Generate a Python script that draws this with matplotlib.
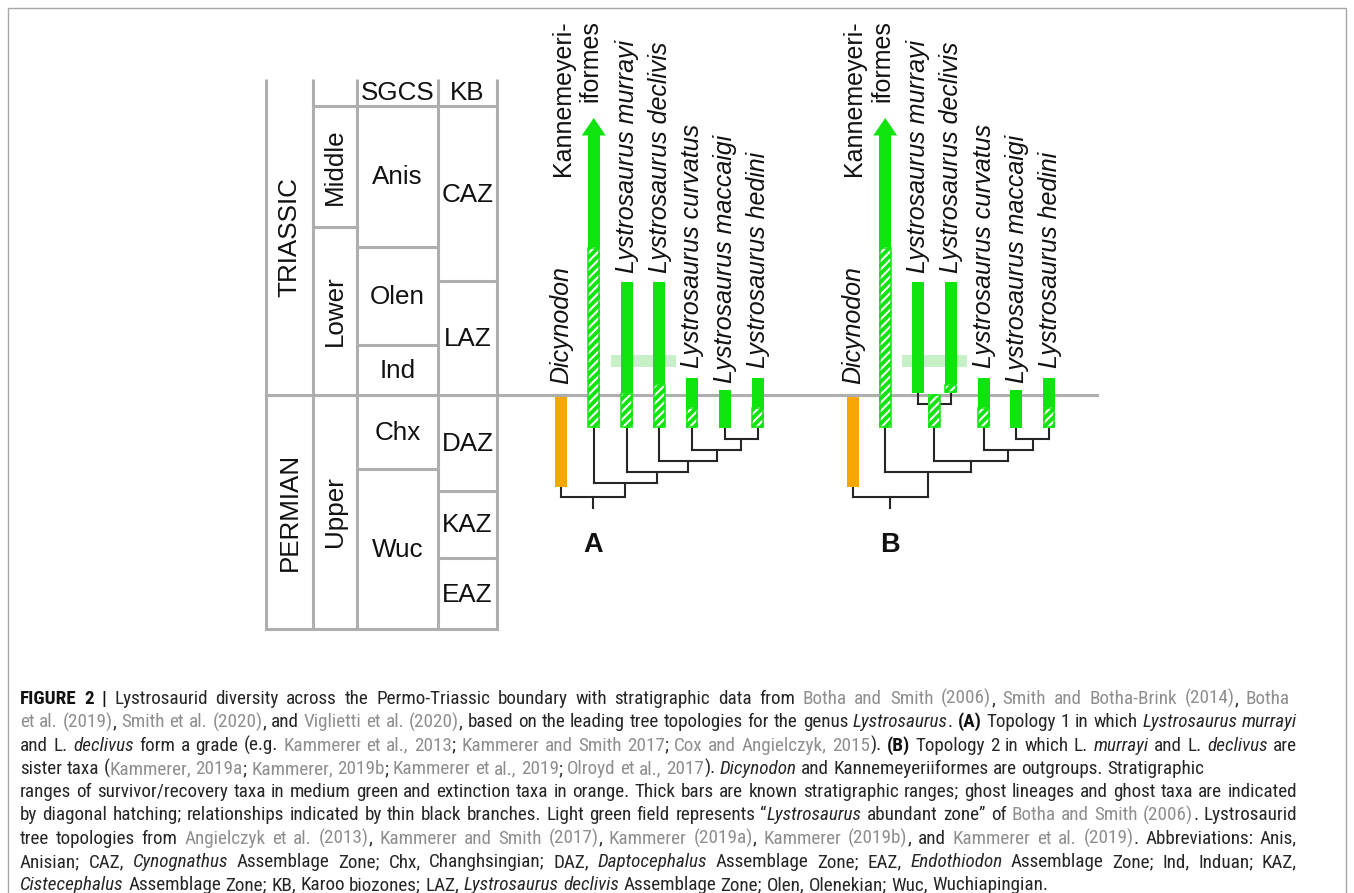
import matplotlib
matplotlib.use('Agg')
import matplotlib.pyplot as plt
from matplotlib.patches import Rectangle, Polygon
from matplotlib import font_manager

W, H = 1354, 893

# tableau stratigraphique (positions en pixels de la figure)
col_x = [266, 313, 357, 438, 497]
table_top, table_bot, boundary_y = 79, 629, 395
periods = [('TRIASSIC', 79, 395), ('PERMIAN', 395, 629)]
epochs = [('', 79, 106), ('Middle', 106, 227), ('Lower', 227, 395), ('Upper', 395, 629)]
stages = [('SGCS', 79, 106), ('Anis', 106, 247), ('Olen', 247, 345), ('Ind', 345, 395),
          ('Chx', 395, 469), ('Wuc', 469, 629)]
zones = [('KB', 79, 106), ('CAZ', 106, 281), ('LAZ', 281, 395), ('DAZ', 395, 491),
         ('KAZ', 491, 558), ('EAZ', 558, 629)]

# taxons et répartitions stratigraphiques
taxa = ['Dicynodon', 'Kannemeyeri-\niformes', 'Lystrosaurus murrayi', 'Lystrosaurus declivis',
        'Lystrosaurus curvatus', 'Lystrosaurus maccaigi', 'Lystrosaurus hedini']
italic = [True, False, True, True, True, True, True]
known_top = [397, 135, 282, 282, 378, 390, 378]
known_bot = [487, 247, 393, 384, 407, 428, 407]
ghost_bot_A = [487, 428, 428, 428, 428, 428, 428]
ghost_bot_B = [487, 428, 393, 393, 428, 428, 428]
label_bot = [384, None, 273, 273, 368, 383, 368]
kanne_label_top = 20
arrow_tip = 118
abundant_zone = (355, 367)

# topologies (indices des taxons) et hauteurs des noeuds (ordre préfixe)
topo_A = (0, (1, (2, (3, (4, (5, 6))))))
node_y_A = [497, 483, 472, 461, 450, 439]
ghost_nodes_A = {}
topo_B = (0, (1, ((2, 3), (4, (5, 6)))))
node_y_B = [497, 472, 461, 404, 450, 439]
ghost_nodes_B = {3: (394, 428)}
root_bottom = 508

# légende
caption_lines = [
    [("FIGURE 2 |", 'b'), (" Lystrosaurid diversity across the Permo-Triassic boundary with stratigraphic data from ", 'n'),
     ("Botha and Smith (2006)", 'g'), (", ", 'n'), ("Smith and Botha-Brink (2014)", 'g'), (", ", 'n'), ("Botha", 'g')],
    [("et al. (2019)", 'g'), (", ", 'n'), ("Smith et al. (2020)", 'g'), (", and ", 'n'), ("Viglietti et al. (2020)", 'g'),
     (", based on the leading tree topologies for the genus ", 'n'), ("Lystrosaurus", 'i'), (". ", 'n'), ("(A)", 'b'),
     (" Topology 1 in which ", 'n'), ("Lystrosaurus murrayi", 'i')],
    [("and L. ", 'n'), ("declivus", 'i'), (" form a grade (e.g. ", 'n'), ("Kammerer et al., 2013", 'g'), ("; ", 'n'),
     ("Kammerer and Smith 2017", 'g'), ("; ", 'n'), ("Cox and Angielczyk, 2015", 'g'), ("). ", 'n'), ("(B)", 'b'),
     (" Topology 2 in which L. ", 'n'), ("murrayi", 'i'), (" and L. ", 'n'), ("declivus", 'i'), (" are", 'n')],
    [("sister taxa (", 'n'), ("Kammerer, 2019a", 'g'), ("; ", 'n'), ("Kammerer, 2019b", 'g'), ("; ", 'n'),
     ("Kammerer et al., 2019", 'g'), ("; ", 'n'), ("Olroyd et al., 2017", 'g'), ("). ", 'n'), ("Dicynodon", 'i'),
     (" and Kannemeyeriiformes are outgroups. Stratigraphic", 'n')],
    [("ranges of survivor/recovery taxa in medium green and extinction taxa in orange. Thick bars are known "
      "stratigraphic ranges; ghost lineages and ghost taxa are indicated", 'n')],
    [("by diagonal hatching; relationships indicated by thin black branches. Light green field represents \u201c", 'n'),
     ("Lystrosaurus", 'i'), (" abundant zone\u201d of ", 'n'), ("Botha and Smith (2006)", 'g'), (". Lystrosaurid", 'n')],
    [("tree topologies from ", 'n'), ("Angielczyk et al. (2013)", 'g'), (", ", 'n'), ("Kammerer and Smith (2017)", 'g'),
     (", ", 'n'), ("Kammerer (2019a)", 'g'), (", ", 'n'), ("Kammerer (2019b)", 'g'), (", and ", 'n'),
     ("Kammerer et al. (2019)", 'g'), (". Abbreviations: Anis,", 'n')],
    [("Anisian; CAZ, ", 'n'), ("Cynognathus", 'i'), (" Assemblage Zone; Chx, Changhsingian; DAZ, ", 'n'),
     ("Daptocephalus", 'i'), (" Assemblage Zone; EAZ, ", 'n'), ("Endothiodon", 'i'),
     (" Assemblage Zone; Ind, Induan; KAZ,", 'n')],
    [("Cistecephalus", 'i'), (" Assemblage Zone; KB, Karoo biozones; LAZ, ", 'n'), ("Lystrosaurus declivis", 'i'),
     (" Assemblage Zone; Olen, Olenekian; Wuc, Wuchiapingian.", 'n')],
]
caption_right = [1290, 1297, 1297, None, 1297, 1297, 1297, 1297, None]

GREEN = '#0fe40f'
ORANGE = '#f7a700'
LIGHT = '#c6f1c6'
GRAY = '#aeaeae'
INK = '#262626'
plt.rcParams['hatch.linewidth'] = 1.5
FONT = 'Liberation Sans'

# police étroite pour la légende si disponible
fonts = font_manager.fontManager.ttflist
names = {f.name for f in fonts}
CAP_FONT, CAP_STRETCH = 'Liberation Sans', 'normal'
for cand in ['Liberation Sans Narrow', 'Roboto Condensed', 'Open Sans Condensed', 'Noto Sans Condensed']:
    if cand in names:
        CAP_FONT = cand
        break
else:
    for fam in ['Roboto', 'Noto Sans', 'Open Sans', 'DejaVu Sans']:
        if any(f.name == fam and f.stretch in ('condensed', 'semi-condensed') for f in fonts):
            CAP_FONT, CAP_STRETCH = fam, 'condensed'
            break

fig = plt.figure(figsize=(W / 100, H / 100), dpi=100)
ax = fig.add_axes([0, 0, 1, 1])
ax.set_xlim(0, W)
ax.set_ylim(H, 0)
ax.axis('off')

ax.add_patch(Rectangle((8, 8), W - 16, H, fill=False, ec='#a8a8a8', lw=1))

# tableau
for x in col_x:
    ax.plot([x, x], [table_top, table_bot], color=GRAY, lw=2.2, solid_capstyle='butt', zorder=1)
ax.plot([col_x[0], col_x[-1]], [table_bot, table_bot], color=GRAY, lw=2.2, zorder=1)
ax.plot([col_x[0], 1097], [boundary_y, boundary_y], color=GRAY, lw=2.2, zorder=1)
for j, cells in enumerate([periods, epochs, stages, zones]):
    x0, x1 = col_x[j], col_x[j + 1]
    for name, top, bot in cells:
        if bot != table_bot and bot != boundary_y:
            ax.plot([x0, x1], [bot, bot], color=GRAY, lw=2.2, zorder=1)
        if name:
            rot = 90 if j < 2 else 0
            ax.text((x0 + x1) / 2, (top + bot) / 2 + (0 if rot else 1), name, rotation=rot, ha='center',
                    va='center', fontsize=18.7, family=FONT, color='#111')


def bar(x, top, bot, kind):
    if bot <= top:
        return
    if kind == 'orange':
        ax.add_patch(Rectangle((x - 6, top), 12, bot - top, fc=ORANGE, ec='none', zorder=3))
    elif kind == 'solid':
        ax.add_patch(Rectangle((x - 6, top), 12, bot - top, fc=GREEN, ec='none', zorder=3))
    else:
        ax.add_patch(Rectangle((x - 6, top), 12, bot - top, fc=GREEN, ec='white', lw=0,
                               hatch='////', zorder=3))
        ax.add_patch(Rectangle((x - 5.3, top + 0.7), 10.6, bot - top - 1.4, fill=False, ec=GREEN,
                               lw=1.1, zorder=3.1))


def draw_tree(node, xs, bots, heights, ghosts, counter):
    k = counter[0]
    counter[0] += 1
    y = heights[k]
    kids = []
    for c in node:
        if isinstance(c, int):
            kids.append((xs[c], bots[c]))
        else:
            kids.append(draw_tree(c, xs, bots, heights, ghosts, counter))
    for cx, cy in kids:
        ax.plot([cx, cx], [cy, y], color=INK, lw=1.5, zorder=2)
    ax.plot([kids[0][0], kids[-1][0]], [y, y], color=INK, lw=1.5, zorder=2, solid_capstyle='projecting')
    x = (kids[0][0] + kids[-1][0]) / 2
    if k in ghosts:
        g_top, g_bot = ghosts[k]
        bar(x, g_top, g_bot, 'ghost')
        return x, g_bot
    return x, y


def panel(x0, topo, node_y, ghosts, ghost_bot, letter):
    xs = [x0 + i * 32.75 for i in range(len(taxa))]
    ax.add_patch(Rectangle((xs[2] - 16, abundant_zone[0]), 65, abundant_zone[1] - abundant_zone[0],
                           fc=LIGHT, ec='none', zorder=1.5))
    for i in range(len(taxa)):
        x = xs[i]
        if i == 0:
            bar(x, known_top[i], known_bot[i], 'orange')
        else:
            bar(x, known_top[i], known_bot[i], 'solid')
            bar(x, known_bot[i], ghost_bot[i], 'ghost')
        if i == 1:
            ax.add_patch(Polygon([[x, arrow_tip], [x - 12, known_top[i] + 0.5], [x + 12, known_top[i] + 0.5]],
                                 closed=True, fc=GREEN, ec='none', zorder=3))
            ax.text(x - 17, kanne_label_top, taxa[i], rotation=90, ha='center', va='top', multialignment='right',
                    fontsize=18, family=FONT, color='#111')
        else:
            ax.text(x + 0.5, label_bot[i], taxa[i], rotation=90, ha='center', va='bottom', fontsize=18,
                    family=FONT, style='italic' if italic[i] else 'normal', color='#111')
    root_x, root_y = draw_tree(topo, xs, ghost_bot, node_y, ghosts, [0])
    ax.plot([root_x, root_x], [root_y, root_bottom], color=INK, lw=1.5, zorder=2)
    ax.text(root_x, 545, letter, ha='center', va='center', fontsize=19.5, weight='bold', family=FONT, color='#111')


panel(561, topo_A, node_y_A, ghost_nodes_A, ghost_bot_A, 'A')
panel(852.5, topo_B, node_y_B, ghost_nodes_B, ghost_bot_B, 'B')

# légende justifiée
styles = {'n': dict(color='#262626'), 'b': dict(color='#111111', weight='bold'),
          'i': dict(color='#262626', style='italic'), 'g': dict(color='#8e8e8e')}
renderer = fig.canvas.get_renderer()


def words_of(runs):
    words = [[]]
    for text, st in runs:
        for k, p in enumerate(text.split(' ')):
            if k > 0:
                words.append([])
            if p:
                words[-1].append((p, st))
    return [w for w in words if w]


def text_w(s, st, size):
    t = ax.text(0, 0, s, fontsize=size, family=CAP_FONT, stretch=CAP_STRETCH, **styles[st])
    w = t.get_window_extent(renderer).width
    t.remove()
    return w


left = 20
base = 12
space0 = text_w('x x', 'n', base) - text_w('xx', 'n', base)
ratio = 10.0
for runs, right in zip(caption_lines, caption_right):
    if right is None:
        continue
    ws = words_of(runs)
    nat = sum(text_w(p, st, base) for w in ws for p, st in w) + space0 * (len(ws) - 1)
    ratio = min(ratio, (right - left) / nat)
size = min(base * ratio * 0.995, 13.8)
space = space0 * size / base

for i, (runs, right) in enumerate(zip(caption_lines, caption_right)):
    y = 704 + i * 23.3
    ws = words_of(runs)
    widths = [[text_w(p, st, size) for p, st in w] for w in ws]
    total = sum(sum(w) for w in widths)
    gap = space if right is None else (right - left - total) / (len(ws) - 1)
    x = left
    for w, wl in zip(ws, widths):
        for (p, st), pw in zip(w, wl):
            ax.text(x, y, p, fontsize=size, family=CAP_FONT, stretch=CAP_STRETCH, ha='left', va='baseline',
                    **styles[st])
            x += pw
        x += gap

fig.savefig('out.png', dpi=100)
